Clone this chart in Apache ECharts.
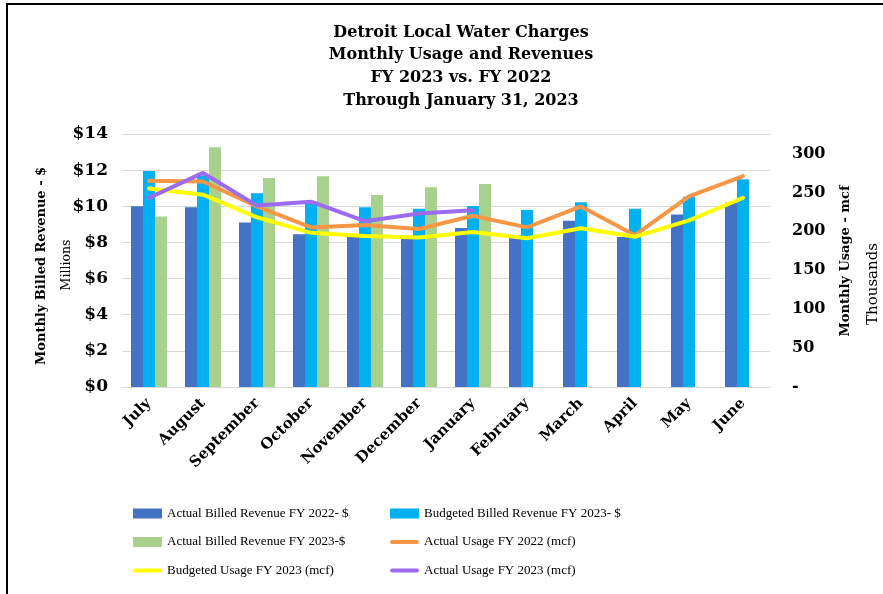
<!DOCTYPE html>
<html><head><meta charset="utf-8">
<script src="https://cdn.jsdelivr.net/npm/echarts@6/dist/echarts.min.js"></script>
<style>html,body{margin:0;padding:0;background:#fff}#c{width:883px;height:594px}</style>
</head><body><div id="c"></div>
<script>
const months = ['July','August','September','October','November','December','January','February','March','April','May','June'];
const actualRev2022 = [10.0, 9.95, 9.1, 8.45, 8.3, 8.2, 8.8, 8.4, 9.2, 8.3, 9.55, 10.2];
const budgetRev2023 = [11.95, 11.7, 10.72, 10.25, 9.95, 9.87, 10.02, 9.8, 10.22, 9.87, 10.53, 11.5];
const actualRev2023 = [9.44, 13.26, 11.57, 11.66, 10.63, 11.05, 11.23, null, null, null, null, null];
const actualUse2022 = [265, 264, 232, 205, 208, 203, 220, 205, 232, 195, 245, 271];
const budgetUse2023 = [255, 247, 218, 198, 194, 192, 199, 191, 204, 193, 214, 243];
const actualUse2023 = [243, 275, 233, 238, 213, 223, 227, null, null, null, null, null];
const leftTicks = {min: 0, max: 14, interval: 2};
const rightTicks = {min: 0, max: 325, interval: 50};

const serif = 'Liberation Serif';
const dserif = 'DejaVu Serif';
const lineIcon = 'path://M2,0 L26,0 A2,2 0 0 1 26,4 L2,4 A2,2 0 0 1 2,0 Z';
const chart = echarts.init(document.getElementById('c'));
const barW = 12;
const legendText = {fontFamily: serif, fontSize: 13, color: '#000'};
chart.setOption({
  animation: false,
  backgroundColor: '#fff',
  title: {
    text: 'Detroit Local Water Charges\nMonthly Usage and Revenues\nFY 2023 vs. FY 2022\nThrough January 31, 2023',
    left: 456, top: 16, textAlign: 'center',
    textStyle: {fontFamily: dserif, fontWeight: 'bold', fontSize: 16, lineHeight: 22.8, color: '#000'}
  },
  grid: {left: 122, right: 113, top: 134, bottom: 207, containLabel: false},
  legend: [
    {orient: 'vertical', left: 133, top: 507, padding: 0, itemGap: 15.5, itemWidth: 29, itemHeight: 10, symbolKeepAspect: true,
     textStyle: legendText,
     data: [{name: 'Actual Billed Revenue FY 2022- $', icon: 'rect'},
            {name: 'Actual Billed Revenue FY 2023-$', icon: 'rect'},
            {name: 'Budgeted Usage FY 2023 (mcf)', icon: lineIcon}]},
    {orient: 'vertical', left: 390, top: 507, padding: 0, itemGap: 15.5, itemWidth: 29, itemHeight: 10, symbolKeepAspect: true,
     textStyle: legendText,
     data: [{name: 'Budgeted Billed Revenue FY 2023- $', icon: 'rect'},
            {name: 'Actual Usage FY 2022 (mcf)', icon: lineIcon},
            {name: 'Actual Usage FY 2023 (mcf)', icon: lineIcon}]}
  ],
  xAxis: {
    type: 'category', data: months,
    axisLine: {lineStyle: {color: '#d9d9d9', width: 1}},
    axisTick: {show: false},
    axisLabel: {rotate: 45, interval: 0, margin: 14, fontFamily: dserif, fontWeight: 'bold', fontSize: 15, color: '#000'}
  },
  yAxis: [
    {type: 'value', min: leftTicks.min, max: leftTicks.max, interval: leftTicks.interval,
     axisLine: {show: false}, axisTick: {show: false},
     splitLine: {lineStyle: {color: '#d9d9d9', width: 1}},
     axisLabel: {margin: 14, fontFamily: dserif, fontWeight: 'bold', fontSize: 17, color: '#000', formatter: v => '$' + v}},
    {type: 'value', min: rightTicks.min, max: rightTicks.max, interval: rightTicks.interval,
     axisLine: {show: false}, axisTick: {show: false}, splitLine: {show: false},
     axisLabel: {margin: 22, align: 'left', fontFamily: dserif, fontWeight: 'bold', fontSize: 16, color: '#000',
       showMaxLabel: false,
       formatter: v => (v === 0 ? '-' : (v > 300 ? '' : String(v)))}}
  ],
  series: [
    {name: 'Actual Billed Revenue FY 2022- $', type: 'bar', data: actualRev2022, barWidth: barW, barGap: '0%', itemStyle: {color: '#4472C4'}},
    {name: 'Budgeted Billed Revenue FY 2023- $', type: 'bar', data: budgetRev2023, barWidth: barW, barGap: '0%', itemStyle: {color: '#00B0F0'}},
    {name: 'Actual Billed Revenue FY 2023-$', type: 'bar', data: actualRev2023, barWidth: barW, barGap: '0%', itemStyle: {color: '#A9D18E'}},
    {name: 'Actual Usage FY 2022 (mcf)', type: 'line', yAxisIndex: 1, data: actualUse2022, symbol: 'none',
     lineStyle: {color: '#F79646', width: 4, cap: 'round', join: 'round'}, itemStyle: {color: '#F79646'}},
    {name: 'Budgeted Usage FY 2023 (mcf)', type: 'line', yAxisIndex: 1, data: budgetUse2023, symbol: 'none',
     lineStyle: {color: '#FFFF00', width: 4, cap: 'round', join: 'round'}, itemStyle: {color: '#FFFF00'}},
    {name: 'Actual Usage FY 2023 (mcf)', type: 'line', yAxisIndex: 1, data: actualUse2023, symbol: 'none',
     lineStyle: {color: '#9B6BF2', width: 4, cap: 'round', join: 'round'}, itemStyle: {color: '#9B6BF2'}}
  ],
  graphic: [
    {type: 'rect', shape: {x: 7, y: 4, width: 900, height: 620}, style: {fill: 'none', stroke: '#000', lineWidth: 2}, silent: true},
    {type: 'text', x: 42, y: 266, rotation: Math.PI / 2,
     style: {text: 'Monthly Billed Revenue - $', fontFamily: dserif, fontWeight: 'bold', fontSize: 13, fill: '#000', align: 'center', verticalAlign: 'middle'}},
    {type: 'text', x: 67, y: 265, rotation: Math.PI / 2,
     style: {text: 'Millions', fontFamily: dserif, fontSize: 12.5, fill: '#000', align: 'center', verticalAlign: 'middle'}},
    {type: 'text', x: 846, y: 261, rotation: Math.PI / 2,
     style: {text: 'Monthly Usage - mcf', fontFamily: dserif, fontWeight: 'bold', fontSize: 13, fill: '#000', align: 'center', verticalAlign: 'middle'}},
    {type: 'text', x: 873, y: 284, rotation: Math.PI / 2,
     style: {text: 'Thousands', fontFamily: dserif, fontSize: 15, fill: '#000', align: 'center', verticalAlign: 'middle'}}
  ]
});
</script></body></html>
